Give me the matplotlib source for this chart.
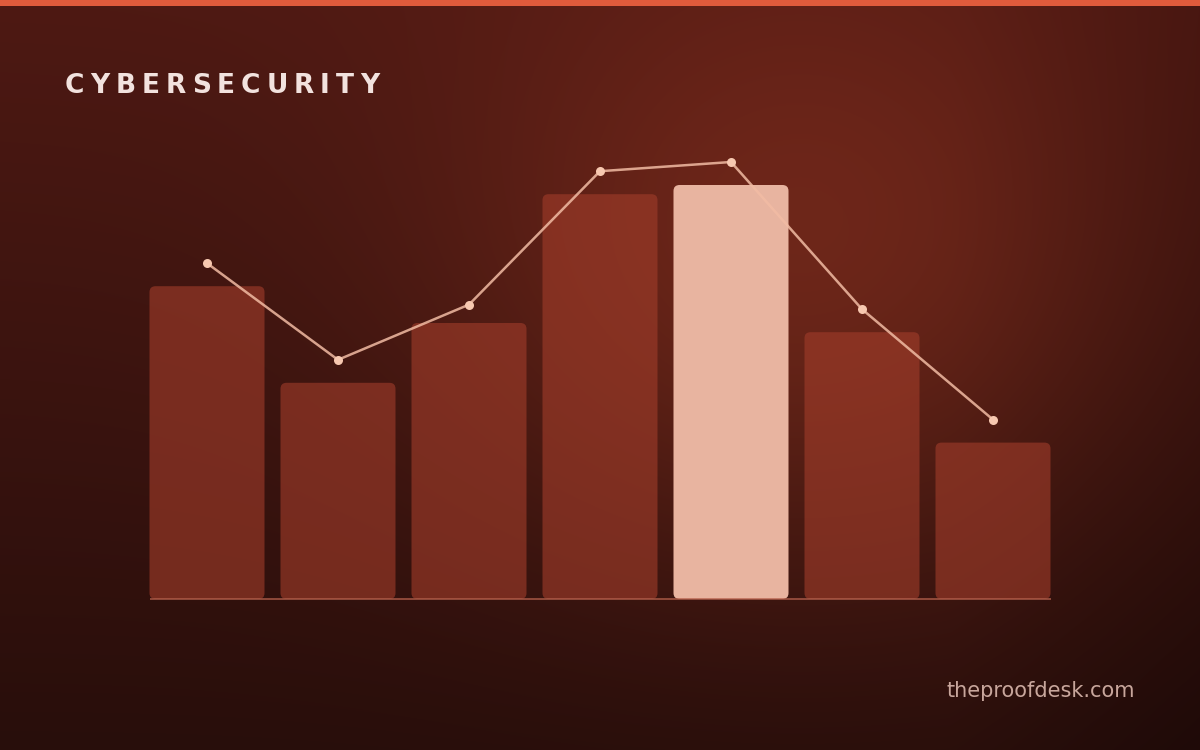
import numpy as np
import matplotlib
matplotlib.use("Agg")
import matplotlib.pyplot as plt
from matplotlib.patches import FancyBboxPatch, Rectangle

# data
categories = ["A", "B", "C", "D", "E", "F", "G"]
bar_values = [68, 47, 60, 88, 90, 58, 34]
line_values = [73, 52, 64, 93, 95, 63, 39]
highlight_index = 4

title = "CYBERSECURITY"
watermark = "theproofdesk.com"

W, H = 1200, 750
fig = plt.figure(figsize=(W / 100, H / 100), dpi=100)

# background glow
bg = fig.add_axes([0, 0, 1, 1])
bg.set_axis_off()
yy, xx = np.mgrid[0:H, 0:W]
t = yy / H
top = np.array([78, 25, 19]) / 255
bottom = np.array([40, 14, 11]) / 255
base = top[None, None, :] * (1 - t[..., None]) + bottom[None, None, :] * t[..., None]
# darken edges slightly
edge = np.clip((xx - 950) / 250, 0, 1)[..., None] * (np.array([10, 4, 3]) / 255)
r = np.sqrt(((xx - 800) / 1.15) ** 2 + (yy - 270) ** 2)
glow = np.exp(-(r / 300) ** 2)[..., None] * (np.array([44, 17, 9]) / 255)
img = np.clip(base + glow - edge, 0, 1)
bg.imshow(img, extent=[0, W, H, 0], aspect="auto")
bg.set_xlim(0, W)
bg.set_ylim(H, 0)
bg.add_patch(Rectangle((0, 0), W, 6, color="#e05b3c", lw=0))

# main chart
ax = fig.add_axes([141.5 / W, 151 / H, 917 / W, 460 / H])
ax.set_xlim(-0.5, len(categories) - 0.5)
ax.set_ylim(0, 100)
ax.set_axis_off()

bar_w = 115 / 131
px_x = 131
px_y = 4.6
rad = 6 / px_x
for i, v in enumerate(bar_values):
    if i == highlight_index:
        fc, a = "#e8b4a0", 1.0
    else:
        fc, a = "#a03c2a", 0.62
    p = FancyBboxPatch((i - bar_w / 2, 0), bar_w, v,
                       boxstyle=f"round,pad=0,rounding_size={rad}",
                       mutation_aspect=px_x / px_y,
                       fc=fc, ec="none", alpha=a, zorder=2)
    ax.add_patch(p)

ax.plot([-bar_w / 2, len(categories) - 1 + bar_w / 2], [0, 0],
        color="#b4604c", lw=1.1, alpha=0.9, zorder=3,
        solid_capstyle="butt", clip_on=False)

x = np.arange(len(categories))
ax.plot(x, line_values, color="#f2bca4", lw=1.8, alpha=0.85, zorder=4)
ax.plot(x, line_values, "o", color="#f7c8b0", ms=6.5, mec="none", zorder=5)

# letter-spaced title
fig.canvas.draw()
renderer = fig.canvas.get_renderer()
chars = []
total = 0
for ch in title:
    tx = fig.text(0, 0, ch, fontsize=19, fontweight="bold", color="#f2e2de")
    w = tx.get_window_extent(renderer).width
    chars.append((tx, w))
    total += w
tracking = (314 - total) / (len(title) - 1)
cx = 65
for tx, w in chars:
    tx.set_position((cx / W, 1 - 93 / H))
    cx += w + tracking

fig.text(1135 / W, 1 - 697 / H, watermark, fontsize=15, color="#c8a69c",
         ha="right", va="baseline")

fig.savefig("out.png", dpi=100)
